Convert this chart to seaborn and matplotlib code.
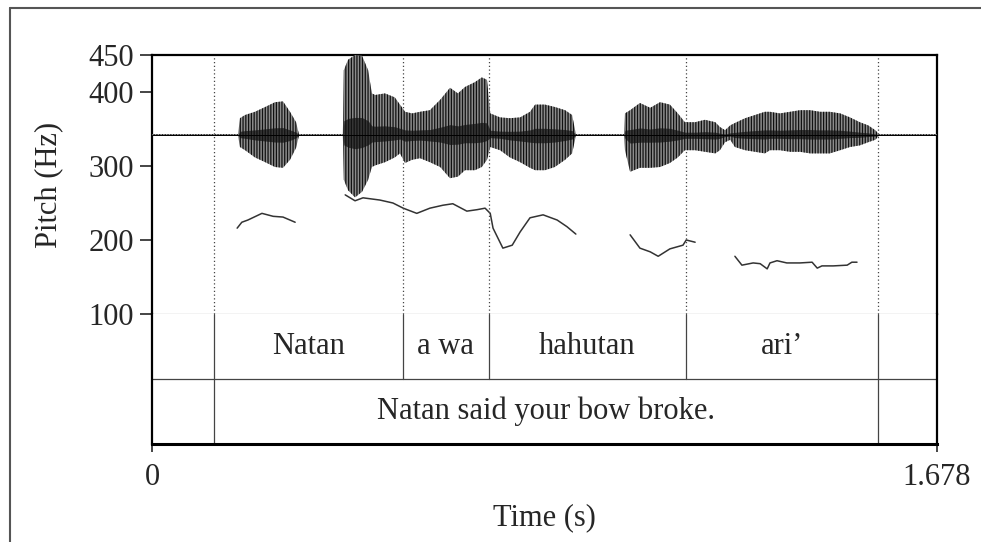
import numpy as np
import pandas as pd
import seaborn as sns
import matplotlib.pyplot as plt
from matplotlib.lines import Line2D

sns.set_theme(style='white')
plt.rcParams['font.family'] = ['Liberation Serif', 'DejaVu Serif']
plt.rcParams['hatch.linewidth'] = 0.9

T_END = 1.678

# waveform envelope (time s, upper / lower amplitude, 1 = top of panel)
wave_t = [0.000, 0.184, 0.188, 0.199, 0.220, 0.242, 0.263, 0.280, 0.295, 0.308, 0.314,
          0.408, 0.410, 0.419, 0.434, 0.449, 0.462, 0.470, 0.477, 0.498, 0.519, 0.530,
          0.541, 0.556, 0.573, 0.594, 0.616, 0.637, 0.654, 0.669, 0.690, 0.705, 0.716,
          0.723, 0.744, 0.765, 0.787, 0.808, 0.819, 0.840, 0.861, 0.883, 0.898, 0.906,
          1.009, 1.011, 1.022, 1.043, 1.065, 1.086, 1.107, 1.124, 1.139, 1.161, 1.182,
          1.204, 1.214, 1.225, 1.236, 1.246, 1.268, 1.289, 1.310, 1.321, 1.342, 1.364,
          1.385, 1.407, 1.428, 1.449, 1.471, 1.492, 1.513, 1.531, 1.546, 1.554, 1.678]
wave_hi = [0.01, 0.01, 0.21, 0.25, 0.29, 0.35, 0.41, 0.42, 0.29, 0.16, 0.01,
           0.01, 0.81, 0.94, 1.00, 0.99, 0.81, 0.52, 0.50, 0.52, 0.47, 0.38,
           0.29, 0.27, 0.29, 0.31, 0.44, 0.59, 0.52, 0.60, 0.66, 0.72, 0.69,
           0.27, 0.22, 0.21, 0.22, 0.29, 0.38, 0.38, 0.35, 0.31, 0.25, 0.01,
           0.01, 0.27, 0.31, 0.40, 0.34, 0.41, 0.38, 0.27, 0.16, 0.16, 0.19,
           0.16, 0.10, 0.06, 0.12, 0.15, 0.21, 0.25, 0.29, 0.29, 0.27, 0.29,
           0.31, 0.31, 0.29, 0.29, 0.27, 0.22, 0.16, 0.12, 0.06, 0.01, 0.01]
wave_lo = [-0.01, -0.01, -0.15, -0.19, -0.28, -0.34, -0.40, -0.41, -0.31, -0.16, -0.01,
           -0.01, -0.56, -0.69, -0.78, -0.71, -0.56, -0.40, -0.38, -0.34, -0.28, -0.23,
           -0.35, -0.31, -0.29, -0.34, -0.40, -0.54, -0.52, -0.44, -0.44, -0.40, -0.31,
           -0.15, -0.19, -0.28, -0.34, -0.41, -0.44, -0.44, -0.40, -0.31, -0.23, -0.01,
           -0.01, -0.19, -0.46, -0.41, -0.41, -0.40, -0.35, -0.28, -0.19, -0.19, -0.21,
           -0.23, -0.19, -0.09, -0.06, -0.15, -0.19, -0.21, -0.23, -0.19, -0.19, -0.21,
           -0.21, -0.23, -0.23, -0.23, -0.19, -0.15, -0.13, -0.09, -0.06, -0.01, -0.01]

# pitch contours (Hz)
f0_t1 = [0.182, 0.192, 0.205, 0.235, 0.259, 0.280, 0.306]
f0_v1 = [216, 224, 227, 236, 232, 231, 224]
f0_t2 = [0.413, 0.434, 0.451, 0.487, 0.515, 0.537, 0.566, 0.594, 0.622, 0.643, 0.673,
         0.695, 0.712, 0.723, 0.729, 0.750, 0.770, 0.787, 0.808, 0.836, 0.866, 0.887, 0.906]
f0_v2 = [261, 253, 257, 254, 250, 243, 236, 243, 247, 249, 239,
         241, 243, 236, 216, 189, 193, 211, 230, 234, 227, 218, 208]
f0_t3 = [1.022, 1.043, 1.065, 1.082, 1.107, 1.135, 1.142, 1.161]
f0_v3 = [207, 189, 184, 178, 188, 193, 200, 197]
f0_t4 = [1.246, 1.261, 1.285, 1.300, 1.315, 1.321, 1.336, 1.357, 1.385, 1.411,
         1.422, 1.432, 1.456, 1.486, 1.496, 1.507]
f0_v4 = [178, 166, 169, 168, 161, 169, 172, 169, 169, 170,
         162, 165, 165, 166, 170, 170]

# text grid
word_bounds = [0.1325, 0.5365, 0.720, 1.1415, 1.552]
words = ['Natan', 'a wa', 'hahutan', 'ari\u2019']
sent_bounds = [0.1325, 1.552]
sentence = 'Natan said your bow broke.'

pitch = pd.concat([
    pd.DataFrame({'t': t, 'f0': v, 'seg': i})
    for i, (t, v) in enumerate([(f0_t1, f0_v1), (f0_t2, f0_v2), (f0_t3, f0_v3), (f0_t4, f0_v4)])
])

W, H = 981, 542
fig = plt.figure(figsize=(W / 100, H / 100), dpi=100)
ax = fig.add_axes([152 / W, 1 - 314 / H, 785 / W, 259 / H])
axt = fig.add_axes([152 / W, 1 - 444 / H, 785 / W, 130 / H])

# waveform on its own hidden scale
axw = ax.twinx()
wt = np.array(wave_t)
whi = np.array(wave_hi)
wlo = np.array(wave_lo)
axw.fill_between(wt, wlo, whi, facecolor='#8c8c8c', edgecolor='#111111',
                 hatch='||||||', linewidth=0)
# darker core around the zero line
axw.fill_between(wt, wlo * 0.22, whi * 0.22, color='#111111', alpha=0.7, linewidth=0)
axw.plot([0, T_END], [0, 0], color='black', lw=0.7)
axw.set_ylim(-2.2375, 1)
axw.set_xlim(0, T_END)
axw.axis('off')

sns.lineplot(data=pitch, x='t', y='f0', units='seg', estimator=None,
             color='#333333', lw=1.1, ax=ax)
for b in word_bounds:
    ax.axvline(b, color='#444444', lw=0.9, ls=(0, (1, 2)))
ax.set_xlim(0, T_END)
ax.set_ylim(100, 450)
ax.set_yticks([100, 200, 300, 400, 450])
ax.set_xticks([])
ax.set_xlabel('')
ax.set_ylabel('Pitch (Hz)', fontsize=22, labelpad=18)
ax.tick_params(axis='y', labelsize=22, length=9, width=1.2, direction='out', pad=4, left=True)
for s in ['left', 'top', 'right']:
    ax.spines[s].set_linewidth(1.6)
    ax.spines[s].set_color('black')
ax.spines['bottom'].set_linewidth(0.8)
ax.spines['bottom'].set_color('#333333')

# tiers
axt.set_xlim(0, T_END)
axt.set_ylim(0, 2)
axt.axhline(1, color='#444444', lw=0.9)
for b in word_bounds:
    axt.plot([b, b], [1, 2], color='#444444', lw=0.9)
for b in sent_bounds:
    axt.plot([b, b], [0, 1], color='#444444', lw=0.9)
for i, w in enumerate(words):
    axt.text((word_bounds[i] + word_bounds[i + 1]) / 2, 1.5, w,
             ha='center', va='center', fontsize=22)
axt.text(sum(sent_bounds) / 2, 0.5, sentence, ha='center', va='center', fontsize=22)
axt.set_yticks([])
axt.set_xticks([0, T_END])
axt.set_xticklabels(['0', '1.678'])
axt.tick_params(axis='x', labelsize=22, length=6, width=1.2, direction='out', pad=8, bottom=True)
axt.set_xlabel('Time (s)', fontsize=22, labelpad=8)
for s in ['left', 'right']:
    axt.spines[s].set_linewidth(1.6)
    axt.spines[s].set_color('black')
axt.spines['top'].set_visible(False)
axt.spines['bottom'].set_linewidth(2.2)
axt.spines['bottom'].set_color('black')

# outer frame
fig.add_artist(Line2D([9.5 / W, 1], [1 - 8 / H, 1 - 8 / H], color='#555555', lw=1.5))
fig.add_artist(Line2D([9.5 / W, 9.5 / W], [0, 1 - 8 / H], color='#555555', lw=1.5))

fig.savefig('out.png', dpi=100)
